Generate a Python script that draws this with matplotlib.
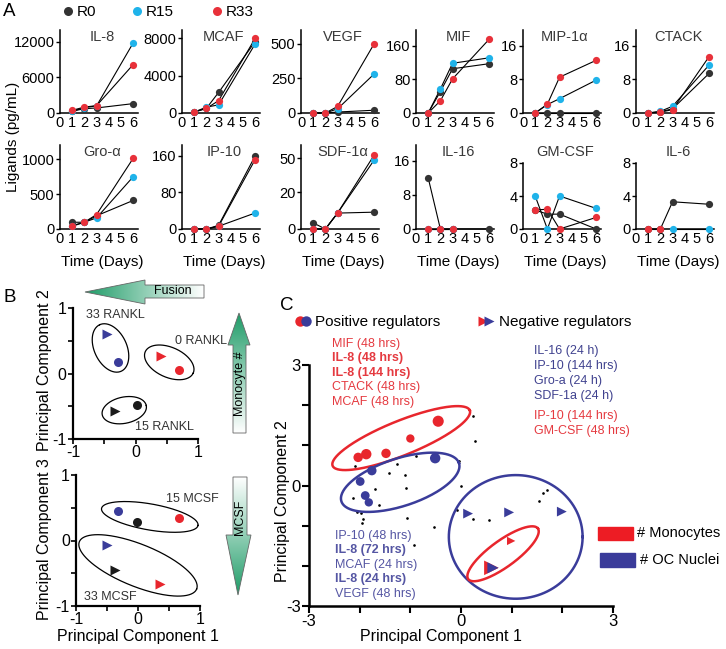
import numpy as np
import matplotlib
matplotlib.use('Agg')
import matplotlib.pyplot as plt
from matplotlib.patches import Polygon, Rectangle
from matplotlib.colors import LinearSegmentedColormap

plt.rcParams['font.family'] = ['Liberation Sans', 'DejaVu Sans']

# ---------------- data: panel A (ligand time courses) ----------------
days = [1, 2, 3, 6]
ligands = ['IL-8', 'MCAF', 'VEGF', 'MIF', 'MIP-1α', 'CTACK',
           'Gro-α', 'IP-10', 'SDF-1α', 'IL-16', 'GM-CSF', 'IL-6']
nan = np.nan
r0_vals = [[300, 730, 850, 1580], [100, 500, 2200, 7650], [0, 0, 7, 20],
           [0, 51, 105, 117], [0, 0, 0, 0], [0, 0.3, 1.0, 9.4],
           [97, 97, 190, 410], [0, 0, 8, 160], [3.3, 0, 8.6, 9.1],
           [12, 0, 0, 0], [2.3, 1.8, 1.8, 0], [0, 0, 3.3, 3.0]]
r15_vals = [[300, 900, 1200, 11800], [100, 630, 870, 7400], [0, 0, 30, 282],
            [0, 57, 118, 131], [0, 2.0, 3.4, 7.8], [0, 0.4, 1.6, 11.4],
            [50, 97, 160, 750], [0, 0, 6, 35], [0, 0, 8.6, 48.5],
            [0, 0, 0, nan], [4.0, 0, 4.0, 2.5], [nan, nan, 0, 0]]
r33_vals = [[450, 1000, 1240, 8160], [100, 490, 1320, 8000], [0, 0, 47, 500],
            [0, 29, 81, 175], [0, 2.1, 8.5, 12.5], [0, 0.2, 0.8, 13.4],
            [39, 97, 208, 1015], [0, 0, 6, 152], [0, 0, 8.6, 53],
            [0, 0, 0, nan], [2.3, 2.4, 0, 1.4], [0, 0, nan, nan]]
ymax = [14000, 8900, 600, 197, 19.7, 19.7, 1207, 184, 62, 19.7, 8, 8]
yticks = [[0, 6000, 12000], [0, 4000, 8000], [0, 250, 500], [0, 80, 160],
          [0, 8, 16], [0, 8, 16], [0, 500, 1000], [0, 80, 160], [0, 20, 50],
          [0, 8, 16], [0, 4, 8], [0, 4, 8]]

# ---------------- data: panel B (PCA of conditions) ----------------
b_cols = ['#3a3c9a', '#1a1a1a', '#e8262d']          # 33, 15, 0 RANKL
b12_circ_x = [-0.28, 0.02, 0.70]
b12_circ_y = [0.17, -0.48, 0.05]
b12_tri_x = [-0.46, -0.33, 0.41]
b12_tri_y = [0.60, -0.58, 0.27]
b13_circ_x = [-0.32, -0.02, 0.66]
b13_circ_y = [0.45, 0.28, 0.35]
b13_tri_x = [-0.50, -0.37, 0.35]
b13_tri_y = [-0.07, -0.45, -0.67]

# ---------------- data: panel C (PCA of ligands) ----------------
pos_red_x = [-0.45, -1.00, -1.48, -1.87, -2.03]
pos_red_y = [1.60, 1.17, 0.80, 0.78, 0.70]
pos_blue_x = [-0.51, -1.76, -1.99, -1.89, -1.82]
pos_blue_y = [0.68, 0.37, 0.10, -0.25, -0.42]
neg_blue_x = [0.14, 0.95, 1.99, 0.63]
neg_blue_y = [-0.70, -0.67, -0.65, -2.05]
neg_red_x = [0.99, 0.60]
neg_red_y = [-1.38, -2.05]
dots_x = [-2.10, -1.43, -1.10, -1.27, -0.89, -0.03, 0.00, -1.70, -1.08, -2.14,
          -1.61, -2.06, -1.98, -1.93, -1.95, -1.07, -0.53, -0.92, -0.07, 0.23,
          0.56, 1.54, 1.61, 1.69, 0.23, 0.28]
dots_y = [0.49, 0.31, 0.27, 0.53, 0.73, 0.62, 0.00, -0.09, -0.07, -0.32,
          -0.48, -0.65, -0.68, -0.83, -0.94, -0.80, -1.03, -1.48, -0.61, -0.84,
          -0.86, -0.38, -0.19, -0.11, 1.72, 1.12]
red_top_labels = ['MIF (48 hrs)', 'IL-8 (48 hrs)', 'IL-8 (144 hrs)', 'CTACK (48 hrs)', 'MCAF (48 hrs)']
red_top_bold = [False, True, True, False, False]
blue_right_labels = ['IL-16 (24 h)', 'IP-10 (144 hrs)', 'Gro-a (24 h)', 'SDF-1a (24 h)']
red_right_labels = ['IP-10 (144 hrs)', 'GM-CSF (48 hrs)']
blue_low_labels = ['IP-10 (48 hrs)', 'IL-8 (72 hrs)', 'MCAF (24 hrs)', 'IL-8 (24 hrs)', 'VEGF (48 hrs)']
blue_low_bold = [False, True, False, True, False]

c_r0, c_r15, c_r33 = '#333333', '#1fb3ea', '#e8313a'
red, blue = '#e8262d', '#3a3c9a'

W, H = 726, 649
fig = plt.figure(figsize=(W / 100, H / 100), dpi=100)


def rect(l, t, r, b):
    return [l / W, 1 - b / H, (r - l) / W, (b - t) / H]


def ring(ax, cx, cy, a, b, ang, **kw):
    # ellipse with a, b in x-data units, angle as seen on screen
    bb = ax.get_position()
    k = (bb.width * W / np.ptp(ax.get_xlim())) / (bb.height * H / np.ptp(ax.get_ylim()))
    t = np.linspace(0, 2 * np.pi, 240)
    c, s = np.cos(np.radians(ang)), np.sin(np.radians(ang))
    u, v = a * np.cos(t), b * np.sin(t)
    ax.plot(cx + u * c - v * s, cy + (u * s + v * c) * k, **kw)


# overlay in pixel coordinates for labels / decorations
ov = fig.add_axes([0, 0, 1, 1], zorder=10)
ov.patch.set_alpha(0)
ov.axis('off')

# ---------------- panel A ----------------
lefts = [60, 182, 301, 416, 523, 636]
for i, name in enumerate(ligands):
    row, col = divmod(i, 6)
    l = lefts[col]
    if row == 0:
        t, b = 30, 113
    else:
        t, b = (163 if ymax[i] == 8 else 145), 229
    ax = fig.add_axes(rect(l, t, l + 78, b))
    if name == 'SDF-1α':
        fwd = lambda v: np.where(np.asarray(v) <= 20, np.asarray(v) * 1.835, 36.7 + (np.asarray(v) - 20) * 1.11)
        inv = lambda u: np.where(np.asarray(u) <= 36.7, np.asarray(u) / 1.835, 20 + (np.asarray(u) - 36.7) / 1.11)
        ax.set_yscale('function', functions=(fwd, inv))
    for vals in (r0_vals[i], r15_vals[i], r33_vals[i]):
        ax.plot(days, vals, '-', color='k', lw=0.8, zorder=2, clip_on=False)
    for vals, c in ((r0_vals[i], c_r0), (r15_vals[i], c_r15), (r33_vals[i], c_r33)):
        ax.plot(days, vals, 'o', color=c, ms=5.2, mec='none', zorder=3, clip_on=False)
    ax.set_xlim(0, 6.4)
    ax.set_ylim(0, ymax[i])
    ax.set_xticks(range(7))
    ax.set_yticks(yticks[i])
    ax.set_yticklabels([str(v) for v in yticks[i]])
    for s in ('top', 'right'):
        ax.spines[s].set_visible(False)
    for s in ('left', 'bottom'):
        ax.spines[s].set_linewidth(1.1)
    ax.tick_params(axis='y', length=3, width=1, labelsize=10.5, pad=1)
    ax.tick_params(axis='x', length=0, labelsize=10.5, pad=2)
    ax.patch.set_alpha(0)
    ov.text(l + 42, 37 if row == 0 else 152, name, ha='center', va='center',
            fontsize=10.5, color='#3a3a3a')
    if row == 1:
        ov.text(l + 42, 262, 'Time (Days)', ha='center', va='center', fontsize=11)

ov.text(13, 137, 'Ligands (pg/mL)', rotation=90, ha='center', va='center', fontsize=11)
ov.text(9, 12, 'A', ha='center', va='center', fontsize=13.5)
for xm, lab, c in ((68, 'R0', c_r0), (137, 'R15', c_r15), (217, 'R33', c_r33)):
    ov.plot(xm, 11, 'o', color=c, ms=6.5, mec='none')
    ov.text(xm + 9, 12, lab, ha='left', va='center', fontsize=11)

# ---------------- panel B ----------------
def style_b(ax):
    ax.set_xlim(-1, 1)
    ax.set_ylim(-1, 1)
    ticks = [-1, -0.5, 0, 0.5, 1]
    labs = ['-1', '', '0', '', '1']
    ax.set_xticks(ticks)
    ax.set_xticklabels(labs)
    ax.set_yticks(ticks)
    ax.set_yticklabels(labs)
    for s in ('top', 'right'):
        ax.spines[s].set_visible(False)
    for s in ('left', 'bottom'):
        ax.spines[s].set_linewidth(1.6)
    ax.tick_params(length=3.5, width=1.2, labelsize=11.5, pad=1)
    ax.patch.set_alpha(0)


axb1 = fig.add_axes(rect(73, 308, 198, 439))
style_b(axb1)
for x, y, c in zip(b12_circ_x, b12_circ_y, b_cols):
    axb1.plot(x, y, 'o', color=c, ms=6.5, mec='none')
for x, y, c in zip(b12_tri_x, b12_tri_y, b_cols):
    axb1.plot(x, y, '>', color=c, ms=7.5, mec='none')
ring(axb1, -0.40, 0.39, 0.41, 0.26, 115, color='k', lw=0.9)
ring(axb1, 0.54, 0.17, 0.42, 0.24, -24, color='k', lw=0.9)
ring(axb1, -0.18, -0.56, 0.36, 0.21, 12, color='k', lw=0.9)
axb1.text(-0.33, 0.89, '33 RANKL', ha='center', va='center', fontsize=9, color='#333333', clip_on=False)
axb1.text(1.05, 0.50, '0 RANKL', ha='center', va='center', fontsize=9, color='#333333', clip_on=False)
axb1.text(0.46, -0.82, '15 RANKL', ha='center', va='center', fontsize=9, color='#333333', clip_on=False)

axb2 = fig.add_axes(rect(76, 475, 200, 606))
style_b(axb2)
for x, y, c in zip(b13_circ_x, b13_circ_y, b_cols):
    axb2.plot(x, y, 'o', color=c, ms=6.5, mec='none')
for x, y, c in zip(b13_tri_x, b13_tri_y, b_cols):
    axb2.plot(x, y, '>', color=c, ms=7.5, mec='none')
ring(axb2, 0.19, 0.36, 0.79, 0.21, -10, color='k', lw=0.9)
ring(axb2, 0.0, -0.38, 1.02, 0.34, -22, color='k', lw=0.9)
axb2.text(0.87, 0.63, '15 MCSF', ha='center', va='center', fontsize=9, color='#333333', clip_on=False)
axb2.text(-0.44, -0.86, '33 MCSF', ha='center', va='center', fontsize=9, color='#333333', clip_on=False)

ov.text(10, 298, 'B', ha='center', va='center', fontsize=13.5)
ov.text(45, 370, 'Principal Component 2', rotation=90, ha='center', va='center', fontsize=11.5)
ov.text(45, 539, 'Principal Component 3', rotation=90, ha='center', va='center', fontsize=11.5)
ov.text(138, 637, 'Principal Component 1', ha='center', va='center', fontsize=11.5)

# gradient arrows
gcm = LinearSegmentedColormap.from_list('g', ['#1f9c68', '#ffffff'])


def grad_arrow(verts, vertical, flip):
    poly = Polygon(verts, closed=True, fc='none', ec='#666666', lw=0.6, zorder=6)
    ov.add_patch(poly)
    xs = [v[0] for v in verts]
    ys = [v[1] for v in verts]
    g = np.linspace(0, 1, 256)
    if flip:
        g = g[::-1]
    img = g[:, None] if vertical else g[None, :]
    im = ov.imshow(img, cmap=gcm, extent=(min(xs), max(xs), max(ys), min(ys)),
                   aspect='auto', zorder=5)
    im.set_clip_path(poly)


grad_arrow([(85, 292), (145, 280), (145, 285), (204, 285), (204, 298), (145, 298), (145, 304)], False, False)
grad_arrow([(239, 313), (250, 345), (246, 345), (246, 433), (233, 433), (233, 345), (228, 345)], True, False)
grad_arrow([(233, 477), (247, 477), (247, 535), (251, 535), (238, 595), (226, 535), (233, 535)], True, True)
ov.text(173, 291, 'Fusion', ha='center', va='center', fontsize=9, zorder=7)
ov.text(240, 384, 'Monocyte #', rotation=90, ha='center', va='center', fontsize=9, zorder=7)
ov.text(240, 517, 'MCSF', rotation=90, ha='center', va='center', fontsize=9, zorder=7)

# ---------------- panel C ----------------
axc = fig.add_axes(rect(309, 365, 613, 606))
axc.set_xlim(-3, 3)
axc.set_ylim(-3, 3)
axc.set_xticks(range(-3, 4))
axc.set_xticklabels(['-3', '', '', '0', '', '', '3'])
axc.set_yticks(range(-3, 4))
axc.set_yticklabels(['-3', '', '', '0', '', '', '3'])
for s in ('top', 'right'):
    axc.spines[s].set_visible(False)
for s in ('left', 'bottom'):
    axc.spines[s].set_linewidth(1.8)
axc.tick_params(length=5, width=1.5, labelsize=12, pad=1)
axc.patch.set_alpha(0)

axc.plot(dots_x, dots_y, '.', color='k', ms=1.8)
ring(axc, -1.18, 1.18, 1.46, 0.34, 22, color=red, lw=1.8)
ring(axc, -1.20, 0.08, 1.22, 0.47, 18, color=blue, lw=1.8)
ring(axc, 1.08, -1.28, 1.32, 1.22, 0, color=blue, lw=1.8)
ring(axc, 0.83, -1.70, 0.85, 0.26, 36, color=red, lw=1.8)
axc.scatter(pos_red_x, pos_red_y, s=[64, 36, 46, 56, 46], color=red, lw=0, zorder=4)
axc.scatter(pos_blue_x, pos_blue_y, s=[56, 46, 40, 40, 36], color=blue, lw=0, zorder=4)
axc.scatter(neg_red_x, neg_red_y, s=[36, 110], marker='>', color=red, lw=0, zorder=4)
axc.scatter(neg_blue_x, neg_blue_y, s=[50, 50, 50, 64], marker='>', color=blue, lw=0, zorder=5)

for j, (lab, bold) in enumerate(zip(red_top_labels, red_top_bold)):
    axc.text(-2.54, 3.53 - 0.36 * j, lab, color='#e53a40', fontsize=9, va='center',
             fontweight='bold' if bold else 'normal', clip_on=False)
for j, lab in enumerate(blue_right_labels):
    axc.text(1.44, 3.35 - 0.37 * j, lab, color='#40428f', fontsize=9, va='center', clip_on=False)
for j, lab in enumerate(red_right_labels):
    axc.text(1.44, 1.73 - 0.38 * j, lab, color='#e53a40', fontsize=9, va='center', clip_on=False)
for j, (lab, bold) in enumerate(zip(blue_low_labels, blue_low_bold)):
    axc.text(-2.49, -1.25 - 0.36 * j, lab, color='#5556a3', fontsize=9, va='center',
             fontweight='bold' if bold else 'normal')

ov.text(287, 305, 'C', ha='center', va='center', fontsize=13.5)
ov.plot(300, 321, 'o', color=red, ms=7.5, mec='none')
ov.plot(306, 321, 'o', color=blue, ms=7.5, mec='none')
ov.text(315, 322, 'Positive regulators', ha='left', va='center', fontsize=11)
ov.plot(483, 321, '>', color=red, ms=6.5, mec='none')
ov.plot(489, 321, '>', color=blue, ms=6.5, mec='none')
ov.text(499, 322, 'Negative regulators', ha='left', va='center', fontsize=11)
ov.add_patch(Rectangle((598, 527), 35, 13, color='#ed1c24'))
ov.add_patch(Rectangle((600, 553), 35, 14, color='#3a3b9a'))
ov.text(637, 533, '# Monocytes', ha='left', va='center', fontsize=10.5)
ov.text(640, 560, '# OC Nuclei', ha='left', va='center', fontsize=10.5)
ov.text(282, 501, 'Principal Component 2', rotation=90, ha='center', va='center', fontsize=11.5)
ov.text(441, 637, 'Principal Component 1', ha='center', va='center', fontsize=11.5)

ov.set_xlim(0, W)
ov.set_ylim(H, 0)

fig.savefig('out.png', dpi=100)
